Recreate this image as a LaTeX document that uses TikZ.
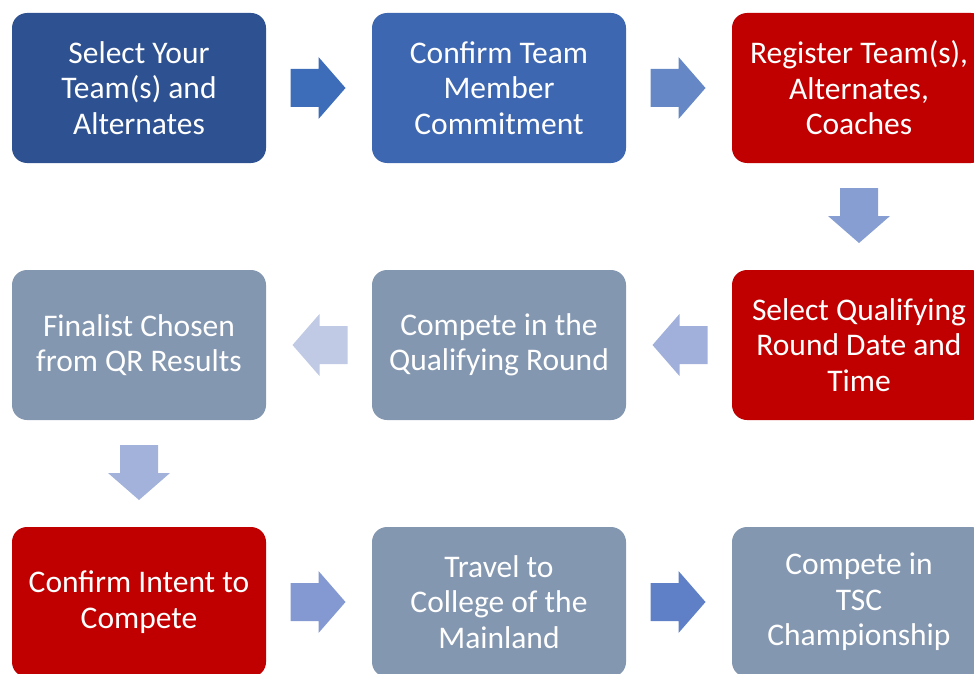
\documentclass[tikz,border=0pt]{standalone}
\usepackage{fontspec}
\setmainfont{Carlito}
\usetikzlibrary{calc}
\definecolor{cA}{HTML}{2E5191}
\definecolor{cB}{HTML}{3E67B1}
\definecolor{cRed}{HTML}{C00000}
\definecolor{cGray}{HTML}{8497B0}
\definecolor{a1}{HTML}{3D6CB9}
\definecolor{a2}{HTML}{6587C6}
\definecolor{a3}{HTML}{869ED2}
\definecolor{a4}{HTML}{A0B0DA}
\definecolor{a5}{HTML}{C0CAE4}
\definecolor{a6}{HTML}{A2B2DA}
\definecolor{a7}{HTML}{8499D2}
\definecolor{a8}{HTML}{5F80C6}
\newcommand{\barrow}[4]{%
  \fill[#4, shift={($(#1)!0.5!(#2)$)}, rotate=#3]
    (-28.5,-19) -- (-0.5,-19) -- (-0.5,-31) -- (26.5,0) -- (-0.5,31) -- (-0.5,19) -- (-28.5,19) -- cycle;}
\begin{document}
\begin{tikzpicture}[x=1pt,y=1pt,
  stepbox/.style={rectangle, rounded corners=15pt, minimum width=254pt, minimum height=150pt,
    inner sep=0pt, text=white, align=center, font=\fontsize{31.5}{35.5}\selectfont}]
\clip (0,0) rectangle (974,-674);
\node[stepbox, fill=cA]    (n1) at (139,-88)  {Select Your\\Team(s) and\\Alternates};
\node[stepbox, fill=cB]    (n2) at (499,-88)  {Confirm Team\\Member\\Commitment};
\node[stepbox, fill=cRed]  (n3) at (859,-88)  {Register Team(s),\\Alternates,\\Coaches};
\node[stepbox, fill=cRed]  (n6) at (859,-345) {Select Qualifying\\Round Date and\\Time};
\node[stepbox, fill=cGray] (n5) at (499,-345) {Compete in the\\Qualifying Round};
\node[stepbox, fill=cGray] (n4) at (139,-345) {Finalist Chosen\\from QR Results};
\node[stepbox, fill=cRed]  (n7) at (139,-602) {Confirm Intent to\\Compete};
\node[stepbox, fill=cGray] (n8) at (499,-602) {Travel to\\College of the\\Mainland};
\node[stepbox, fill=cGray] (n9) at (859,-602) {Compete in\\TSC\\Championship};
\barrow{n1.east}{n2.west}{0}{a1}
\barrow{n2.east}{n3.west}{0}{a2}
\barrow{n3.south}{n6.north}{-90}{a3}
\barrow{n6.west}{n5.east}{180}{a4}
\barrow{n5.west}{n4.east}{180}{a5}
\barrow{n4.south}{n7.north}{-90}{a6}
\barrow{n7.east}{n8.west}{0}{a7}
\barrow{n8.east}{n9.west}{0}{a8}
\end{tikzpicture}
\end{document}
